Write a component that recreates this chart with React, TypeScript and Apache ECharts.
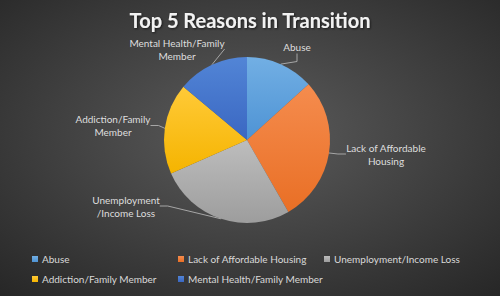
import React, { useEffect, useRef } from "react";
import * as echarts from "echarts";

// Share of people in transition, by main reason (percent)
const categories = [
  "Abuse",
  "Lack of Affordable Housing",
  "Unemployment/Income Loss",
  "Addiction/Family Member",
  "Mental Health/Family Member",
];
const values = [13.3, 28.4, 26.7, 17.7, 13.9];
// Slice labels as they wrap around the pie
const sliceLabels = [
  "Abuse",
  "Lack of Affordable\nHousing",
  "Unemployment\n/Income Loss",
  "Addiction/Family\nMember",
  "Mental Health/Family\nMember",
];

// Office-style colours: [light top, darker bottom]
const sliceColors: [string, string][] = [
  ["#72afe4", "#4e93d4"],
  ["#f58c4e", "#e96f25"],
  ["#bdbdbd", "#9d9d9d"],
  ["#ffca38", "#f5b400"],
  ["#5285d6", "#3a67c2"],
];

// Label anchor points (centre of each text block), in pixels
const labelAnchors: [number, number][] = [
  [297, 47],
  [386, 154],
  [126, 206],
  [113, 125.5],
  [177, 49],
];

// Legend grid: column x and row y for each entry
const legendSlots: [number, number][] = [
  [32, 254],
  [178, 254],
  [324, 254],
  [32, 274],
  [178, 274],
];

const FONT = "Lato, 'Open Sans', sans-serif";

export default function App() {
  const ref = useRef<HTMLDivElement>(null);

  useEffect(() => {
    if (!ref.current) return;
    const chart = echarts.init(ref.current, undefined, { renderer: "svg" });

    const data = categories.map((name, i) => ({
      name,
      value: values[i],
      itemStyle: {
        color: new echarts.graphic.LinearGradient(0, 0, 0, 1, [
          { offset: 0, color: sliceColors[i][0] },
          { offset: 1, color: sliceColors[i][1] },
        ]),
      },
    }));

    chart.setOption({
      animation: false,
      backgroundColor: {
        type: "radial",
        x: 0.5,
        y: 0.45,
        r: 0.75,
        colorStops: [
          { offset: 0, color: "#5c5c5c" },
          { offset: 1, color: "#262626" },
        ],
      },
      color: sliceColors.map((c) => c[1]),
      title: {
        text: "Top 5 Reasons in Transition",
        left: "center",
        top: 5,
        textStyle: {
          color: "#f2f2f2",
          fontFamily: FONT,
          fontWeight: "bold",
          fontSize: 20,
          textShadowColor: "rgba(0,0,0,0.6)",
          textShadowBlur: 2,
          textShadowOffsetX: 1,
          textShadowOffsetY: 1,
        },
      },
      legend: legendSlots.map(([x, y], i) => ({
        data: [categories[i]],
        left: x,
        top: y,
        padding: 0,
        itemWidth: 6,
        itemHeight: 6,
        itemGap: 4,
        icon: "rect",
        selectedMode: false,
        textStyle: {
          color: "#d9d9d9",
          fontFamily: FONT,
          fontSize: 10,
          padding: [0, 0, 0, -1],
        },
      })),
      series: [
        {
          type: "pie",
          center: [247, 140],
          radius: 83,
          startAngle: 90,
          clockwise: true,
          data,
          itemStyle: { borderWidth: 0 },
          label: {
            show: true,
            position: "outside",
            color: "#dedede",
            fontFamily: FONT,
            fontSize: 10,
            lineHeight: 13,
            formatter: (p: any) => sliceLabels[p.dataIndex],
          },
          labelLine: {
            show: true,
            length: 8,
            length2: 8,
            lineStyle: { color: "#a6a6a6", width: 1 },
          },
          labelLayout: (p: any) => {
            const [x, y] = labelAnchors[p.dataIndex];
            return { x, y, align: "center", verticalAlign: "middle" };
          },
        },
      ],
    });

    return () => chart.dispose();
  }, []);

  return (
    <div
      ref={ref}
      style={{ position: "absolute", left: 0, top: 0, width: 500, height: 296 }}
    />
  );
}
